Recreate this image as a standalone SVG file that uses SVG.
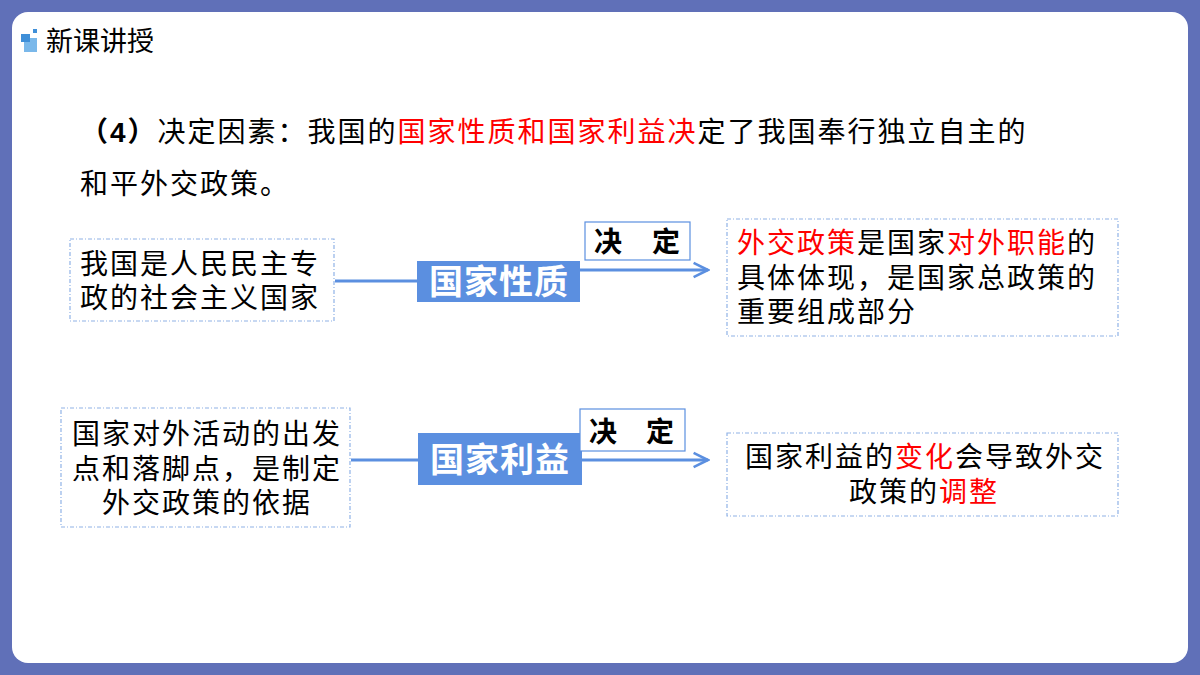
<svg xmlns="http://www.w3.org/2000/svg" width="1200" height="675" viewBox="0 0 1200 675">
<style>
.t{font-family:"Liberation Sans","Noto Sans CJK SC",sans-serif;font-size:28px;fill:#000;letter-spacing:2px}
.r{fill:#ff0000}
.b{font-weight:bold}
.box{fill:#fff;stroke:#8fb2e6;stroke-width:1.2;stroke-dasharray:4 2 1 2}
.lab{fill:#5b8fe0}
.labt{font-family:"Liberation Sans","Noto Sans CJK SC",sans-serif;font-size:34px;font-weight:bold;fill:#fff;letter-spacing:1px}
.jd{fill:#fff;stroke:#5b8fe0;stroke-width:1.2}
.jdt{font-family:"Liberation Sans","Noto Sans CJK SC",sans-serif;font-size:28px;font-weight:bold;fill:#000}
.ln{stroke:#5b8fe0;stroke-width:3;fill:none}
</style>
<defs>
<marker id="ah" viewBox="0 0 10 10" refX="9" refY="5" markerWidth="6" markerHeight="6" orient="auto" markerUnits="strokeWidth">
<path d="M1,1 L9,5 L1,9" fill="none" stroke="#5b8fe0" stroke-width="1.4"/>
</marker>
</defs>
<rect x="0" y="0" width="1200" height="675" fill="#6070b8"/>
<rect x="12" y="12" width="1176" height="651" rx="16" fill="#fff"/>
<g id="title">
<rect x="24" y="38" width="13" height="14" fill="#7ab8ea"/>
<rect x="21" y="34" width="9" height="8" fill="#3f8fd8"/>
<rect x="33" y="29" width="4" height="4" fill="#3f8fd8"/>
<text x="46" y="51" font-family="'Liberation Sans','Noto Sans CJK SC',sans-serif" font-size="27" fill="#000">新课讲授</text>
</g>
<g id="heading">
<text class="t" x="80" y="142"><tspan class="b">（4）</tspan>决定因素：我国的<tspan class="r">国家性质和国家利益决</tspan>定了我国奉行独立自主的</text>
<text class="t" x="80" y="194">和平外交政策。</text>
</g>
<g id="connectors">
<line class="ln" x1="335" y1="281" x2="418" y2="281"/>
<line class="ln" x1="580" y1="270" x2="708" y2="270" marker-end="url(#ah)"/>
<line class="ln" x1="351" y1="460" x2="419" y2="460"/>
<line class="ln" x1="582" y1="460" x2="708" y2="460" marker-end="url(#ah)"/>
</g>
<g id="n1">
<rect class="box" x="70" y="239" width="264" height="82"/>
<text class="t" x="80" y="274">我国是人民民主专</text>
<text class="t" x="80" y="308">政的社会主义国家</text>
</g>
<g id="l1">
<rect class="lab" x="417" y="261" width="163" height="41"/>
<text class="labt" x="499" y="294" text-anchor="middle">国家性质</text>
</g>
<g id="d1">
<rect class="jd" x="585" y="222" width="105" height="38"/>
<text class="jdt" x="594" y="252">决</text>
<text class="jdt" x="652" y="252">定</text>
</g>
<g id="r1">
<rect class="box" x="727" y="219" width="391" height="117"/>
<text class="t" x="737" y="253"><tspan class="r">外交政策</tspan>是国家<tspan class="r">对外职能</tspan>的</text>
<text class="t" x="737" y="288">具体体现，是国家总政策的</text>
<text class="t" x="737" y="322">重要组成部分</text>
</g>
<g id="n2">
<rect class="box" x="61" y="408" width="289" height="119"/>
<text class="t" x="72" y="444">国家对外活动的出发</text>
<text class="t" x="72" y="479">点和落脚点，是制定</text>
<text class="t" x="102" y="513">外交政策的依据</text>
</g>
<g id="l2">
<rect class="lab" x="418" y="433" width="164" height="52"/>
<text class="labt" x="500" y="472" text-anchor="middle">国家利益</text>
</g>
<g id="d2">
<rect class="jd" x="580" y="409" width="105" height="42"/>
<text class="jdt" x="589" y="442">决</text>
<text class="jdt" x="646" y="442">定</text>
</g>
<g id="r2">
<rect class="box" x="727" y="433" width="391" height="83"/>
<text class="t" x="745" y="467">国家利益的<tspan class="r">变化</tspan>会导致外交</text>
<text class="t" x="849" y="502">政策的<tspan class="r">调整</tspan></text>
</g>
</svg>
